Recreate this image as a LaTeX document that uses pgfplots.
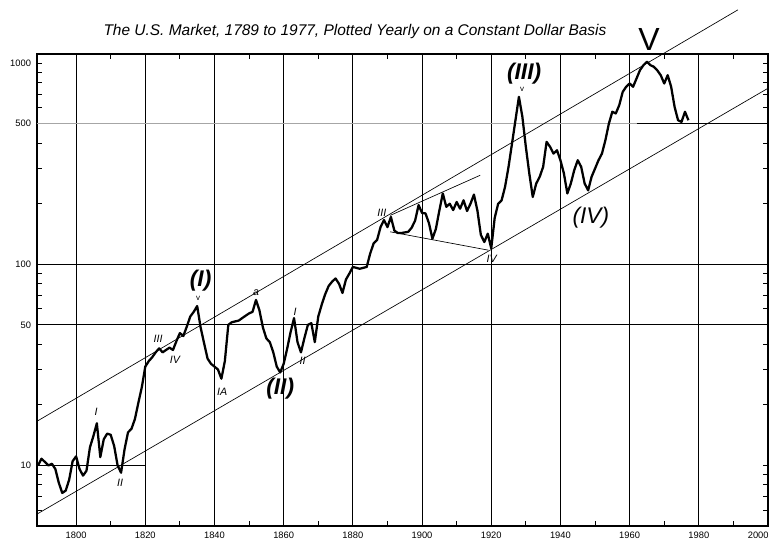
\documentclass[border=0pt]{standalone}
\usepackage{fontspec}
\setmainfont{Liberation Sans}
\usepackage{pgfplots}
\pgfplotsset{compat=1.18}
\begin{document}
\begin{tikzpicture}
\begin{axis}[
  scale only axis,
  width=548.25pt, height=354pt,
  xmin=1788.7, xmax=2000,
  ymode=log, ymin=5, ymax=1110,
  clip=false,
  axis line style={line width=1.1pt},
  /pgf/number format/assume math mode=true,
  xtick={1800,1820,1840,1860,1880,1900,1920,1940,1960,1980},
  xticklabels={1800,1820,1840,1860,1880,1900,1920,1940,1960,1980},
  extra x ticks={2000},
  extra x tick labels={2000},
  extra x tick style={xticklabel style={anchor=north east, xshift=4pt}},
  xmajorgrids,
  major x grid style={black, line width=0.6pt},
  ytick={10,50,100,500,1000},
  yticklabels={10,50,100,500,1000},
  tick align=inside,
  major tick length=4pt,
  every tick/.style={black, line width=0.7pt},
  ticklabel style={font=\fontsize{7}{8}\selectfont},
  xticklabel style={yshift=-1pt},
  yticklabel style={xshift=-1pt},
]
\coordinate (SW) at (rel axis cs:0,0);
\coordinate (NE) at (rel axis cs:1,1);
% minor tick marks
\pgfplotsinvokeforeach{1810,1830,1850,1870,1890,1910,1930,1950,1970,1990}{
  \draw[black, line width=0.7pt] (axis cs:#1,5) -- ++(0pt,4pt);
  \draw[black, line width=0.7pt] (axis cs:#1,1110) -- ++(0pt,-4pt);
}
\pgfplotsinvokeforeach{6,7,8,9,20,30,40,60,70,80,90,200,300,400,600,700,800,900,1000}{
  \draw[black, line width=0.7pt] (axis cs:1788.7,#1) -- ++(4pt,0pt);
  \draw[black, line width=0.7pt] (axis cs:2000,#1) -- ++(-4pt,0pt);
}
% horizontal rules
\draw[black, line width=0.6pt] (axis cs:1788.7,10) -- (axis cs:1820,10);
\draw[black, line width=0.6pt] (axis cs:1788.7,50) -- (axis cs:2000,50);
\draw[black, line width=0.6pt] (axis cs:1788.7,100) -- (axis cs:2000,100);
\draw[black!35, line width=0.6pt] (axis cs:1788.7,500) -- (axis cs:1962,500);
\draw[black, line width=0.6pt] (axis cs:1962,500) -- (axis cs:2000,500);
% trend channel
\addplot[black, line width=0.5pt] coordinates {(1789,16.7) (1991.3,1840)};
\addplot[black, line width=0.5pt] coordinates {(1789,5.77) (2000,750)};
\addplot[black, line width=0.5pt] coordinates {(1890.8,175) (1916.8,277)};
\addplot[black, line width=0.5pt] coordinates {(1890.8,145) (1919.2,117.5)};
% market
\addplot[black, line width=1.7pt, line join=round] coordinates {
(1789,10.0) (1790,10.8) (1791,10.4) (1792,10.0) (1793,10.2) (1794,9.6) (1795,8.2) (1796,7.3) (1797,7.5) (1798,8.5)
(1799,10.5) (1800,11.1) (1801,9.6) (1802,8.9) (1803,9.4) (1804,12.3) (1805,14.0) (1806,16.2) (1807,11.0) (1808,13.5)
(1809,14.4) (1810,14.2) (1811,12.5) (1812,10.0) (1813,9.2) (1814,12.0) (1815,14.6) (1816,15.2) (1817,17.0) (1818,20.5)
(1819,24.5) (1820,31.0) (1821,33.0) (1822,34.5) (1823,36.5) (1824,38.2) (1825,36.5) (1826,37.5) (1827,38.5) (1828,37.5)
(1829,41.5) (1830,45.5) (1831,44.0) (1832,49.0) (1833,55.0) (1834,58.0) (1835,62.0) (1836,48.5) (1837,40.5) (1838,34.0)
(1839,32.0) (1840,31.0) (1841,30.0) (1842,27.0) (1843,33.0) (1844,50.0) (1845,51.5) (1846,52.0) (1847,52.5) (1848,54.0)
(1849,55.5) (1850,57.0) (1851,58.0) (1852,66.5) (1853,59.0) (1854,48.5) (1855,42.8) (1856,41.0) (1857,36.5) (1858,31.0)
(1859,29.0) (1860,32.0) (1861,38.0) (1862,46.0) (1863,54.0) (1864,41.0) (1865,36.5) (1866,43.0) (1867,50.0) (1868,51.0)
(1869,41.0) (1870,55.0) (1871,63.0) (1872,71.0) (1873,78.0) (1874,82.0) (1875,85.0) (1876,80.0) (1877,72.0) (1878,84.0)
(1879,90.0) (1880,97.0) (1881,96.0) (1882,95.0) (1883,96.0) (1884,97.0) (1885,113.0) (1886,127.0) (1887,132.0) (1888,153.0)
(1889,166.0) (1890,153.0) (1891,172.0) (1892,147.0) (1893,143.0) (1894,143.0) (1895,144.0) (1896,145.0) (1897,152.0) (1898,165.0)
(1899,197.0) (1900,180.0) (1901,179.0) (1902,160.0) (1903,134.0) (1904,150.0) (1905,185.0) (1906,225.0) (1907,193.0) (1908,200.0)
(1909,186.0) (1910,204.0) (1911,189.0) (1912,208.0) (1913,184.0) (1914,200.0) (1915,222.0) (1916,185.0) (1917,140.0) (1918,129.0)
(1919,142.0) (1920,120.0) (1921,170.0) (1922,200.0) (1923,208.0) (1924,243.0) (1925,305.0) (1926,398.0) (1927,520.0) (1928,680.0)
(1929,541.0) (1930,384.0) (1931,283.0) (1932,216.0) (1933,252.0) (1934,272.0) (1935,305.0) (1936,406.0) (1937,384.0) (1938,355.0)
(1939,369.0) (1940,329.0) (1941,283.0) (1942,225.0) (1943,252.0) (1944,294.0) (1945,329.0) (1946,305.0) (1947,252.0) (1948,233.0)
(1949,272.0) (1950,299.0) (1951,329.0) (1952,355.0) (1953,414.0) (1954,500.0) (1955,573.0) (1956,562.0) (1957,618.0) (1958,719.0)
(1959,763.0) (1960,792.0) (1961,763.0) (1962,839.0) (1963,923.0) (1964,977.0) (1965,1016.0) (1966,977.0) (1967,959.0) (1968,920.0)
(1969,870.0) (1970,792.0) (1971,871.0) (1972,763.0) (1973,606.0) (1974,520.0) (1975,510.0) (1976,573.0) (1977,520.0)
};
% title
\node[anchor=base, yshift=13.5pt, font=\fontsize{11.6}{13}\selectfont\itshape] at (rel axis cs:0.435,1)
  {The U.S. Market, 1789 to 1977, Plotted Yearly on a Constant Dollar Basis};
% wave labels
\tikzset{sm/.style={font=\fontsize{8}{9}\selectfont\itshape, inner sep=0pt},
         big/.style={font=\fontsize{17}{19}\selectfont\itshape\bfseries, inner sep=0pt}}
\node[sm] at (axis cs:1805.8,18.5) {I};
\node[sm] at (axis cs:1812.7,8.2) {II};
\node[sm] at (axis cs:1823.7,42.4) {III};
\node[sm] at (axis cs:1828.6,33.6) {IV};
\node[sm] at (axis cs:1842.2,23.1) {IA};
\node[sm] at (axis cs:1852,72) {a};
\node[sm] at (axis cs:1863.3,58) {I};
\node[sm] at (axis cs:1865.5,33) {II};
\node[sm] at (axis cs:1888.4,180) {III};
\node[sm] at (axis cs:1920.1,106) {IV};
\node[big] at (axis cs:1836,83) {(I)};
\node[sm, font=\fontsize{6}{7}\selectfont] at (axis cs:1835.3,68) {v};
\node[big] at (axis cs:1859,24.2) {(II)};
\node[big] at (axis cs:1929.5,891) {(III)};
\node[sm, font=\fontsize{6}{7}\selectfont] at (axis cs:1928.9,740) {v};
\node[big, font=\fontsize{17}{19}\selectfont\itshape] at (axis cs:1948.8,171) {(IV)};
\node[inner sep=0pt, font=\fontsize{24}{26}\selectfont] at (axis cs:1965.6,1316) {V};
\end{axis}
\pgfresetboundingbox
\path ([shift={(-27.75pt,-10.5pt)}]SW) rectangle ([shift={(3.75pt,40.5pt)}]NE);
\end{tikzpicture}
\end{document}
